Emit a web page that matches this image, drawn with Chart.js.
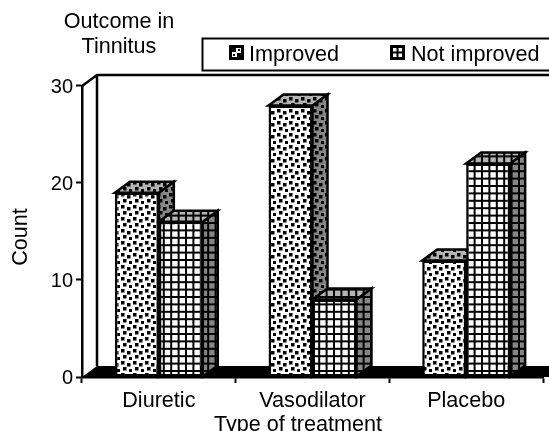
<!DOCTYPE html>
<html><head><meta charset="utf-8">
<style>html,body{margin:0;padding:0;background:#fff;overflow:hidden}canvas{display:block}</style>
<script src="https://cdn.jsdelivr.net/npm/chart.js@4"></script></head>
<body><div style="width:549px;height:431px"><canvas id="c" width="549" height="431"></canvas></div>
<script>
const categories = ['Diuretic','Vasodilator','Placebo'];
const improved = [19,28,12];
const notImproved = [16,8,22];
const seriesNames = ['Improved','Not improved'];
const yTicks = [0,10,20,30];
const titleLines = ['Outcome in','Tinnitus'];
const xTitle = 'Type of treatment';
const yTitle = 'Count';
const FONT = '"Liberation Sans", Arial, sans-serif';
const FS = 21.6;
const DX = 15, DY = 11;
const pctx = document.createElement('canvas').getContext('2d');

function dots(bg){
  const c=document.createElement('canvas');c.width=12;c.height=12;const g=c.getContext('2d');
  g.fillStyle=bg;g.fillRect(0,0,12,12);g.fillStyle='#000';
  [[1,1],[7,3],[3,7],[9,9]].forEach(p=>g.fillRect(p[0],p[1],3.5,3.5));
  return pctx.createPattern(c,'repeat');
}
function grid(bg){
  const c=document.createElement('canvas');c.width=37;c.height=37;const g=c.getContext('2d');
  g.fillStyle=bg;g.fillRect(0,0,37,37);g.fillStyle='#000';
  for(let k=0;k<5;k++){g.fillRect(k*7.4,0,2,37);g.fillRect(0,k*7.4,37,2);}
  return pctx.createPattern(c,'repeat');
}
const fronts=[dots('#fff'),grid('#fff')];
const tops=[dots('#b4b4b4'),grid('#b4b4b4')];
const sides=[dots('#868686'),grid('#868686')];

const scene={
  id:'scene',
  afterLayout(ch){
    const t=ch.titleBlock; t.left=40;t.right=198;t.width=158;t.top=10;t.bottom=60;
  },
  beforeDatasetsDraw(ch){
    const a=ch.chartArea,g=ch.ctx;
    g.save();g.fillStyle='#000';
    g.beginPath();g.moveTo(a.left,a.bottom);g.lineTo(a.left+DX,a.bottom-DY);g.lineTo(549,a.bottom-DY);g.lineTo(549,a.bottom);g.closePath();g.fill();
    g.strokeStyle='#000';g.lineWidth=2.5;
    g.beginPath();g.moveTo(a.left,a.top);g.lineTo(a.left+DX,a.top-DY);g.lineTo(549,a.top-DY);
    g.moveTo(a.left+DX,a.top-DY);g.lineTo(a.left+DX,a.bottom-DY);g.stroke();
    [0,1].forEach(i=>ch.getDatasetMeta(i).data.forEach(b=>{
      const L=b.x-b.width/2,R=b.x+b.width/2,T=b.y,B=b.base;
      g.strokeStyle='#000';g.lineWidth=2.5;g.lineJoin='miter';
      g.fillStyle=sides[i];g.beginPath();g.moveTo(R,T);g.lineTo(R+DX,T-DY);g.lineTo(R+DX,B-DY);g.lineTo(R,B);g.closePath();g.fill();g.stroke();
      g.fillStyle=tops[i];g.beginPath();g.moveTo(L,T);g.lineTo(L+DX,T-DY);g.lineTo(R+DX,T-DY);g.lineTo(R,T);g.closePath();g.fill();g.stroke();
    }));
    g.restore();
  },
  afterDraw(ch){
    const g=ch.ctx;
    g.save();
    g.strokeStyle='#000';g.lineWidth=2;g.strokeRect(202.5,38.5,350,32);
    g.font=FS+'px '+FONT;g.fillStyle='#000';g.textBaseline='alphabetic';
    [[229,249],[390,411]].forEach((p,i)=>{
      g.save();g.translate(p[0],45);
      g.fillStyle='#fff';g.fillRect(0,0,15,15);
      g.strokeStyle='#000';g.lineWidth=3;g.strokeRect(1.5,1.5,12,12);
      if(i===1){g.lineWidth=2;g.beginPath();g.moveTo(7.5,0);g.lineTo(7.5,15);g.moveTo(0,7.5);g.lineTo(15,7.5);g.stroke();}
      else{g.fillStyle='#000';g.fillRect(3,3,4,4);g.fillRect(8,8,4,4);g.fillRect(9,4,2,2);g.fillRect(4,9,2,2);}
      g.restore();
      g.fillText(ch.data.datasets[i].label,p[1],61);
    });
    g.textAlign='center';
    g.fillText(xTitle,298,430.5);
    g.translate(26.5,237);g.rotate(-Math.PI/2);g.fillText(yTitle,0,0);
    g.restore();
  }
};

new Chart(document.getElementById('c'),{
  type:'bar',
  data:{labels:categories,datasets:[
    {label:seriesNames[0],data:improved,backgroundColor:fronts[0],borderColor:'#000',borderWidth:2.5,borderSkipped:false},
    {label:seriesNames[1],data:notImproved,backgroundColor:fronts[1],borderColor:'#000',borderWidth:2.5,borderSkipped:false}
  ]},
  plugins:[scene],
  options:{
    responsive:false,animation:false,
    layout:{padding:{top:36,right:6,left:0,bottom:0}},
    datasets:{bar:{categoryPercentage:0.572,barPercentage:1}},
    scales:{
      x:{
        grid:{drawOnChartArea:false,drawTicks:true,tickLength:6,tickColor:'#000',tickWidth:2},
        border:{color:'#000',width:2.5},
        ticks:{color:'#000',font:{family:FONT,size:FS},padding:5,maxRotation:0},
        afterFit(s){s.height=54;}
      },
      y:{
        min:0,max:30,
        afterBuildTicks(s){s.ticks=yTicks.map(v=>({value:v}));},
        grid:{drawOnChartArea:false,drawTicks:true,tickLength:6,tickColor:'#000',tickWidth:2},
        border:{color:'#000',width:2.5},
        ticks:{color:'#000',font:{family:FONT,size:20},padding:3,labelOffset:1.5},
        afterFit(s){s.width=82;}
      }
    },
    plugins:{
      tooltip:{enabled:false},
      title:{display:true,text:titleLines,color:'#000',font:{family:FONT,size:FS,weight:'normal',lineHeight:1.157},padding:0},
      legend:{display:false}
    }
  }
});
</script></body></html>
